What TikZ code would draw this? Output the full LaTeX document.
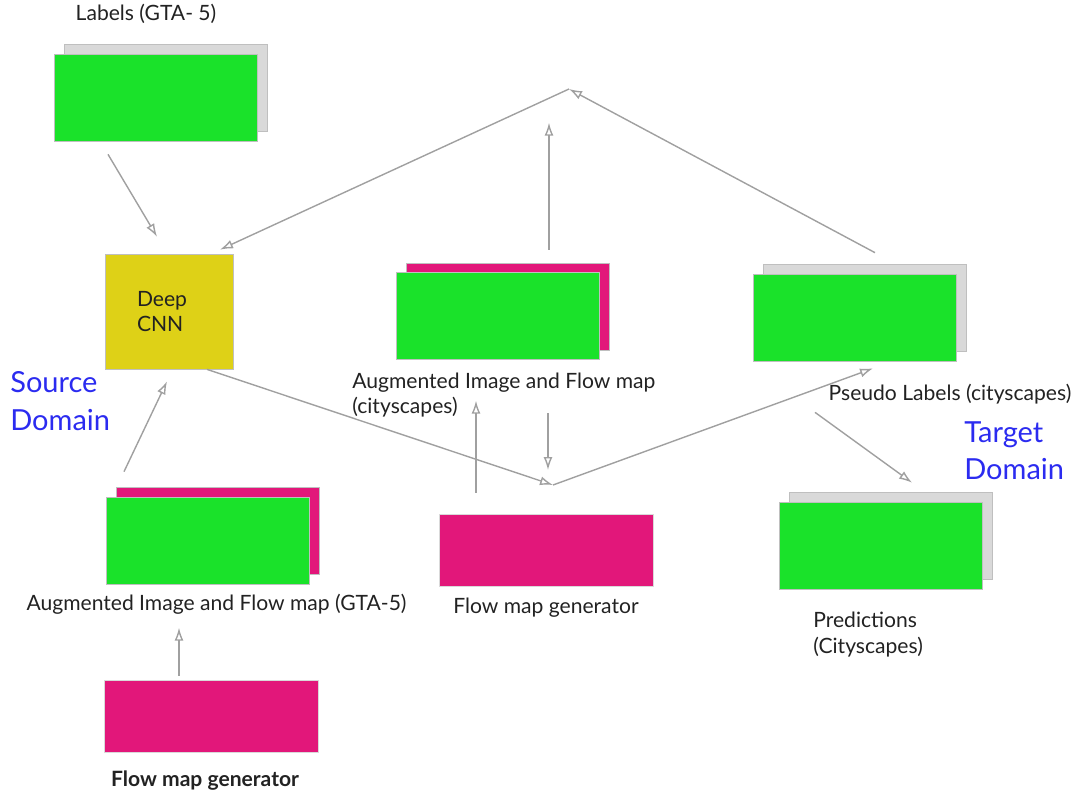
\documentclass[tikz,border=0pt]{standalone}
\usepackage{fontspec}
\setmainfont{Lato}
\usetikzlibrary{arrows.meta,calc}
\definecolor{grn}{HTML}{1AE22A}
\definecolor{pnk}{HTML}{E2177A}
\definecolor{ylw}{HTML}{DED117}
\definecolor{lgr}{HTML}{D9D9D9}
\definecolor{dom}{HTML}{2B2BF0}
\definecolor{arr}{HTML}{A0A0A0}
\definecolor{ink}{HTML}{222222}
\begin{document}
\begin{tikzpicture}[x=0.02cm,y=-0.02cm,
    card/.style={rectangle,draw=black!25,line width=0.4pt,inner sep=0pt,minimum width=4.06cm,minimum height=1.74cm},
    gen/.style={rectangle,draw=black!15,fill=pnk,inner sep=0pt,minimum width=4.28cm,minimum height=1.44cm},
    txt/.style={text=ink,font=\fontsize{12}{14.7}\selectfont,inner sep=0pt},
    domtxt/.style={text=dom,font=\fontsize{16.5}{21.2}\selectfont,inner sep=0pt,align=left,anchor=west},
    link/.style={draw=arr,line width=0.8pt,-{Latex[open,length=2.6mm,width=1.8mm]}}]
    \useasboundingbox (0,0) rectangle (1075,799);
                \coordinate (T) at (569,89);
                \coordinate (M) at (553,485);
                % labels GTA-5
                \node[card,fill=lgr] (L1) at (165.5,87.5) {};
                \node[card,fill=grn] (L) at (155.5,97.5) {};
                \node[txt] (Lt) at (146,14) {Labels (GTA- 5)};
                % deep net
                \node[rectangle,draw=black!25,fill=ylw,minimum width=2.56cm,minimum height=2.3cm,
                      text width=1.28cm,inner xsep=0.64cm,inner ysep=0pt,align=left,txt] (CNN) at (169,311.5) {Deep\\CNN};
                % augmented cityscapes
                \node[card,fill=pnk] (A1) at (508,306.5) {};
                \node[card,fill=grn] (A) at (498,315.5) {};
                \node[txt,align=left,anchor=west] (At) at (352,395) {Augmented Image and Flow map\\(cityscapes)};
                % pseudo labels
                \node[card,fill=lgr] (P1) at (865,307.5) {};
                \node[card,fill=grn] (P) at (855,317.5) {};
                \node[txt] (Pt) at (950,394) {Pseudo Labels (cityscapes)};
                % predictions
                \node[card,fill=lgr] (R1) at (890.5,535.5) {};
                \node[card,fill=grn] (R) at (880.5,545.5) {};
                \node[txt,align=left,anchor=west] (Rt) at (813,634.5) {Predictions\\(Cityscapes)};
                % flow generators
                \node[gen] (F) at (546,550) {};
                \node[txt] (Ft) at (546,608) {Flow map generator};
                \node[card,fill=pnk] (G1) at (217.5,530.5) {};
                \node[card,fill=grn] (G) at (207.5,540.5) {};
                \node[txt] (Gt) at (216.5,604) {Augmented Image and Flow map (GTA-5)};
                \node[gen] (F2) at (211,716) {};
                \node[txt,font=\fontsize{12}{14.7}\selectfont\bfseries] (F2t) at (205,781) {Flow map generator};
                % domains
                \node[domtxt] (S) at (10,401) {Source\\Domain};
                \node[domtxt] (D) at (964,450.5) {Target\\Domain};
                % arrows
                \draw[link] ($(L.south)+(-47.5,13)$) -- ($(CNN.north)+(-12,-17)$);
                \draw[link] (T) -- ($(CNN.north)+(51,-4)$);
                \draw[link] ($(A1.north)+(41,-13)$) -- ($(A1.north)+(41,-140)$);
                \draw[link] ($(P1.north)+(10,-11)$) -- (T);
                \draw[link] ($(CNN.south)+(38,0)$) -- (M);
                \draw[link] (M) -- ($(P.south)+(18,7)$);
                \draw[link] ($(F.north)+(-70,-21)$) -- ($(F.north)+(-70,-113)$);
                \draw[link] ($(M)+(-5,-72)$) -- ($(M)+(-5,-15)$);
                \draw[link] ($(Pt.south)+(-135,8)$) -- ($(R1.north)+(21.5,-9)$);
                \draw[link] ($(G.north)+(-83.5,-25)$) -- ($(CNN.south)+(-2,12)$);
                \draw[link] ($(F2.north)+(-32,-4)$) -- ($(F2.north)+(-32,-52)$);
            \end{tikzpicture}
\end{document}
